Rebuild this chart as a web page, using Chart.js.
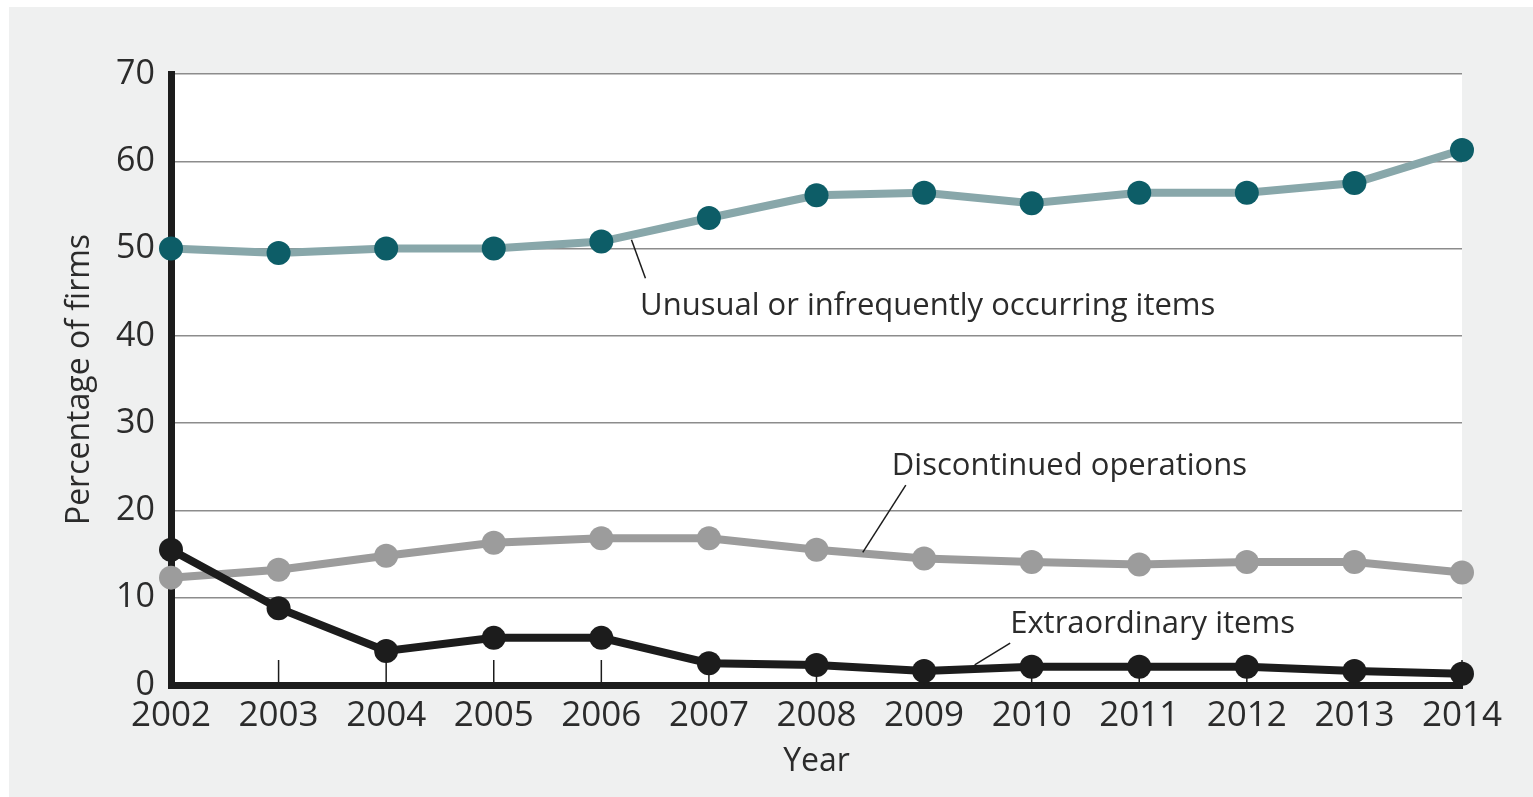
<!DOCTYPE html>
<html>
<head>
<meta charset="utf-8">
<script src="https://cdn.jsdelivr.net/npm/chart.js@4.4.1/dist/chart.umd.min.js"></script>
<style>
  html, body { margin: 0; padding: 0; background: #fff; }
  #wrap { position: absolute; left: 0; top: 0; width: 1533px; height: 797px; }
</style>
</head>
<body>
<div id="wrap"><canvas id="firmsChart" width="1533" height="797"></canvas></div>
<script>
// years on the x axis
const years = ["2002", "2003", "2004", "2005", "2006", "2007", "2008",
               "2009", "2010", "2011", "2012", "2013", "2014"];

// percentage of firms reporting each item
const unusualItems = [50.0, 49.5, 50.0, 50.0, 50.8, 53.5, 56.1, 56.4, 55.2, 56.4, 56.4, 57.5, 61.3];
const discontinuedOps = [12.3, 13.2, 14.8, 16.3, 16.8, 16.8, 15.5, 14.5, 14.1, 13.8, 14.1, 14.1, 12.9];
const extraordinaryItems = [15.5, 8.8, 3.9, 5.4, 5.4, 2.5, 2.3, 1.6, 2.1, 2.1, 2.1, 1.6, 1.3];

const seriesNames = ["Unusual or infrequently occurring items", "Discontinued operations", "Extraordinary items"];

const FONT = "'Open Sans', sans-serif";
const TEXT = "#2b2b2b";

// where the curve labels sit, in data units (x = year index, y = percent)
const callouts = [
  { text: seriesNames[0], x: 4.36, y: 43.4, from: [4.28, 51.0], to: [4.41, 46.6] },
  { text: seriesNames[1], x: 6.70, y: 25.1, from: [6.43, 15.2], to: [6.83, 22.9] },
  { text: seriesNames[2], x: 7.80, y: 7.0, from: [7.47, 2.3], to: [7.80, 4.8] }
];

// grey page, white plot area
const backdrop = {
  id: "backdrop",
  beforeDraw(chart) {
    const { ctx, chartArea: a } = chart;
    ctx.save();
    ctx.fillStyle = "#ffffff";
    ctx.fillRect(0, 0, chart.width, chart.height);
    ctx.fillStyle = "#eff0f0";
    ctx.fillRect(9, 7, chart.width - 9, chart.height - 7);
    ctx.fillStyle = "#ffffff";
    ctx.fillRect(a.left, a.top, a.right - a.left, a.bottom - a.top);
    ctx.restore();
  }
};

// little year ticks standing up from the x axis
const yearTicks = {
  id: "yearTicks",
  beforeDatasetsDraw(chart) {
    const { ctx, chartArea: a, scales: { x } } = chart;
    ctx.save();
    ctx.strokeStyle = "#1c1c1c";
    ctx.lineWidth = 1.5;
    years.forEach((_, i) => {
      const px = x.getPixelForValue(i);
      ctx.beginPath();
      ctx.moveTo(px, a.bottom - 25);
      ctx.lineTo(px, a.bottom);
      ctx.stroke();
    });
    ctx.restore();
  }
};

// text labels with leader lines
const labels = {
  id: "labels",
  afterDatasetsDraw(chart) {
    const { ctx, scales: { x, y } } = chart;
    ctx.save();
    ctx.strokeStyle = "#1c1c1c";
    ctx.lineWidth = 1.5;
    ctx.fillStyle = TEXT;
    ctx.font = "31px " + FONT;
    ctx.textAlign = "left";
    ctx.textBaseline = "middle";
    callouts.forEach(c => {
      ctx.beginPath();
      ctx.moveTo(x.getPixelForValue(c.from[0]), y.getPixelForValue(c.from[1]));
      ctx.lineTo(x.getPixelForValue(c.to[0]), y.getPixelForValue(c.to[1]));
      ctx.stroke();
      ctx.fillText(c.text, x.getPixelForValue(c.x), y.getPixelForValue(c.y));
    });
    ctx.restore();
  }
};

function series(label, data, line, dot, order) {
  return {
    label: label,
    data: data,
    borderColor: line,
    backgroundColor: dot,
    pointBackgroundColor: dot,
    pointBorderColor: dot,
    pointRadius: 12,
    pointBorderWidth: 0,
    borderWidth: 8,
    tension: 0,
    clip: false,
    order: order
  };
}

document.addEventListener("DOMContentLoaded", function() {
  const ctx = document.getElementById("firmsChart").getContext("2d");
  new Chart(ctx, {
    type: "line",
    data: {
      labels: years,
      datasets: [
        series(seriesNames[0], unusualItems, "#88a7aa", "#0d5d67", 2),
        series(seriesNames[1], discontinuedOps, "#9c9c9c", "#9c9c9c", 1),
        series(seriesNames[2], extraordinaryItems, "#1c1c1c", "#1c1c1c", 0)
      ]
    },
    plugins: [backdrop, yearTicks, labels],
    options: {
      responsive: false,
      animation: false,
      layout: { padding: { left: 57, top: 74, right: 71, bottom: 0 } },
      plugins: {
        legend: { display: false },
        tooltip: { enabled: false }
      },
      scales: {
        x: {
          type: "category",
          offset: false,
          afterFit(scale) { scale.height = 112; },
          grid: { display: true, drawOnChartArea: false, drawTicks: false },
          border: { display: true, color: "#1c1c1c", width: 7 },
          ticks: { color: TEXT, font: { family: FONT, size: 35 }, padding: 10, maxRotation: 0, autoSkip: false },
          title: { display: true, text: "Year", color: TEXT, font: { family: FONT, size: 32 }, padding: { top: 2, bottom: 16 } }
        },
        y: {
          min: 0,
          max: 70,
          afterFit(scale) { scale.width = 114; },
          grid: { color: "#8c8c8c", lineWidth: 1.5, drawTicks: false },
          border: { display: true, color: "#1c1c1c", width: 7 },
          ticks: { stepSize: 10, color: TEXT, font: { family: FONT, size: 34 }, padding: 16 },
          title: { display: true, text: "Percentage of firms", color: TEXT, font: { family: FONT, size: 32 }, padding: { top: 4, bottom: 0 } }
        }
      }
    }
  });
});
</script>
</body>
</html>
